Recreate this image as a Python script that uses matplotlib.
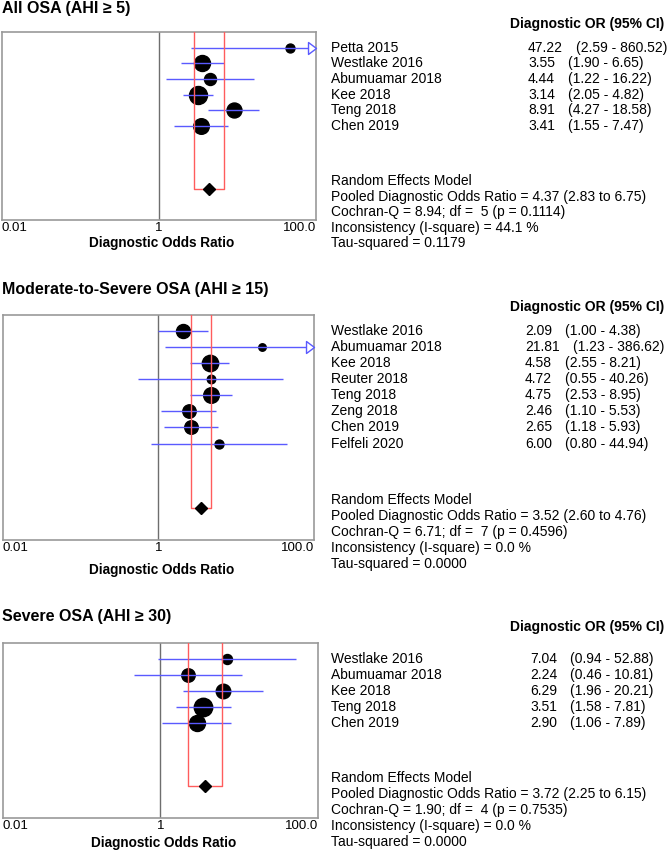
import numpy as np
import matplotlib
matplotlib.use("Agg")
import matplotlib.pyplot as plt
from matplotlib.path import Path
import matplotlib.transforms as mtransforms

plt.rcParams['font.family'] = ['Liberation Sans', 'DejaVu Sans']

# ---------------- data ----------------
title1 = "All OSA (AHI \u2265 5)"
studies1 = ["Petta 2015", "Westlake 2016", "Abumuamar 2018", "Kee 2018", "Teng 2018", "Chen 2019"]
dor1 = [47.22, 3.55, 4.44, 3.14, 8.91, 3.41]
lo1 = [2.59, 1.90, 1.22, 2.05, 4.27, 1.55]
hi1 = [860.52, 6.65, 16.22, 4.82, 18.58, 7.47]
weight1 = [20, 64, 36, 81, 56, 61]
pooled1 = [4.37, 2.83, 6.75]
stats1 = dict(q=8.94, df=5, p=0.1114, i2=44.1, tau2=0.1179)

title2 = "Moderate-to-Severe OSA (AHI \u2265 15)"
studies2 = ["Westlake 2016", "Abumuamar 2018", "Kee 2018", "Reuter 2018", "Teng 2018",
            "Zeng 2018", "Chen 2019", "Felfeli 2020"]
dor2 = [2.09, 21.81, 4.58, 4.72, 4.75, 2.46, 2.65, 6.00]
lo2 = [1.00, 1.23, 2.55, 0.55, 2.53, 1.10, 1.18, 0.80]
hi2 = [4.38, 386.62, 8.21, 40.26, 8.95, 5.53, 5.93, 44.94]
weight2 = [49, 14, 67, 18, 61, 45, 46, 20]
pooled2 = [3.52, 2.60, 4.76]
stats2 = dict(q=6.71, df=7, p=0.4596, i2=0.0, tau2=0.0000)

title3 = "Severe OSA (AHI \u2265 30)"
studies3 = ["Westlake 2016", "Abumuamar 2018", "Kee 2018", "Teng 2018", "Chen 2019"]
dor3 = [7.04, 2.24, 6.29, 3.51, 2.90]
lo3 = [0.94, 0.46, 1.96, 1.58, 1.06]
hi3 = [52.88, 10.81, 20.21, 7.81, 7.89]
weight3 = [25, 45, 53, 85, 64]
pooled3 = [3.72, 2.25, 6.15]
stats3 = dict(q=1.90, df=4, p=0.7535, i2=0.0, tau2=0.0000)

xticks = [0.01, 1, 100]
xticklabels = ["0.01", "1", "100.0"]
xlabel = "Diagnostic Odds Ratio"
header = "Diagnostic OR (95% CI)"

# ---------------- layout ----------------
W, H = 668, 850
fig = plt.figure(figsize=(W / 100, H / 100), dpi=100)


def fx(px):
    return px / W


def fy(py):
    return 1 - py / H


BLUE = '#5a5aff'
RED = '#ff5c5c'
SPINE = '#999999'
VLINE = '#6e6e6e'
FS = 10

# arrow marker with tip at origin
arrow_marker = Path([(-2, -1.5), (0, 0), (-2, 1.5), (-2, -1.5)],
                    [Path.MOVETO, Path.LINETO, Path.LINETO, Path.CLOSEPOLY])

panels = [
    dict(title=title1, studies=studies1, dor=dor1, lo=lo1, hi=hi1, w=weight1, pooled=pooled1, st=stats1,
         box=(2, 32, 316, 220), title_y=8, val_x=528, hdr_off=-1.5, tick_y=227, xl_y=243),
    dict(title=title2, studies=studies2, dor=dor2, lo=lo2, hi=hi2, w=weight2, pooled=pooled2, st=stats2,
         box=(2.5, 315, 314, 540), title_y=289, val_x=525, hdr_off=-1.5, tick_y=553, xl_y=570),
    dict(title=title3, studies=studies3, dor=dor3, lo=lo3, hi=hi3, w=weight3, pooled=pooled3, st=stats3,
         box=(2.5, 643, 318, 818), title_y=617, val_x=530, hdr_off=-2.0, tick_y=827, xl_y=843),
]

for P in panels:
    l, t, r, b = P['box']
    ax = fig.add_axes([fx(l), fy(b), (r - l) / W, (b - t) / H])
    ax.set_xscale('log')
    ax.set_xlim(xticks[0], xticks[-1])
    n = len(P['studies'])
    yd = n + 3
    ax.set_ylim(n + 5, -1)
    ax.xaxis.set_minor_locator(matplotlib.ticker.NullLocator())
    ax.set_xticks(xticks)
    ax.set_xticklabels(xticklabels, fontsize=9.5)
    labs = ax.get_xticklabels()
    labs[0].set_ha('left')
    labs[-1].set_ha('right')
    ax.tick_params(axis='x', length=0, pad=1.5)
    ax.set_yticks([])
    for s in ax.spines.values():
        s.set_color(SPINE)
        s.set_linewidth(1.2)

    ax.axvline(1, color=VLINE, lw=1, zorder=1)

    # study markers
    for i in range(n):
        ms = 2 * np.sqrt(P['w'][i]) * 0.72
        ax.plot(P['dor'][i], i, 'o', ms=ms, color='black', mec='black', zorder=2)

    # confidence intervals
    xmax = xticks[-1]
    for i in range(n):
        hi_c = min(P['hi'][i], xmax)
        ax.plot([P['lo'][i], hi_c], [i, i], color=BLUE, lw=1, zorder=3, solid_capstyle='butt')
        if P['hi'][i] > xmax:
            trans = mtransforms.blended_transform_factory(ax.transAxes, ax.transData)
            ax.plot([1], [i], marker=arrow_marker, ms=11.5, mfc='white', mec=BLUE, mew=1,
                    transform=trans, clip_on=False, zorder=5, ls='none')

    # pooled box
    pe, plo, phi = P['pooled']
    ytop = ax.get_ylim()[1]
    ax.plot([plo, plo, phi, phi], [ytop, yd, yd, ytop], color=RED, lw=1, zorder=3)
    ax.plot(pe, yd, 'D', ms=6.6, color='black', zorder=6)

    # texts
    tr = mtransforms.blended_transform_factory(fig.transFigure, ax.transData)
    fig.text(fx(2), fy(P['title_y']), P['title'], fontsize=11.5, fontweight='bold', va='center', ha='left')
    ax.text(fx(664), P['hdr_off'], header, transform=tr, fontsize=FS, fontweight='bold',
            ha='right', va='center')
    for i in range(n):
        ax.text(fx(331), i, P['studies'][i], transform=tr, fontsize=FS, va='center', ha='left')
        vt = ax.text(fx(P['val_x']), i, f"{P['dor'][i]:.2f}", transform=tr, fontsize=FS,
                     va='center', ha='left')
        ax.annotate(f"({P['lo'][i]:.2f} - {P['hi'][i]:.2f})", xy=(1, 0.5), xycoords=vt,
                    xytext=(13 * 0.72, 0), textcoords='offset points', fontsize=FS,
                    va='center', ha='left')
    st = P['st']
    lines = [
        "Random Effects Model",
        f"Pooled Diagnostic Odds Ratio = {pe:.2f} ({plo:.2f} to {phi:.2f})",
        f"Cochran-Q = {st['q']:.2f}; df =  {st['df']} (p = {st['p']:.4f})",
        f"Inconsistency (I-square) = {st['i2']:.1f} %",
        f"Tau-squared = {st['tau2']:.4f}",
    ]
    for k, s in enumerate(lines):
        ax.text(fx(331), yd - 0.5 + k, s, transform=tr, fontsize=FS, va='center', ha='left')

    fig.text(fx((l + r) / 2 + 3), fy(P['xl_y']), xlabel, fontsize=9.8, fontweight='bold',
             ha='center', va='center')

fig.savefig("out.png", dpi=100)
